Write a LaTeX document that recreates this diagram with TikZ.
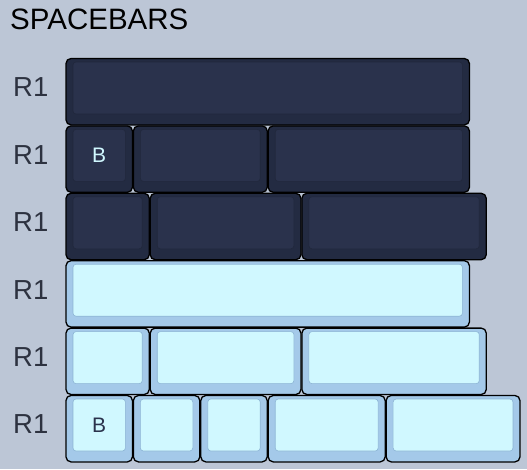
\documentclass[tikz,border=0pt]{standalone}
\usepackage{fontspec}
\setmainfont{Liberation Sans}
\usepackage{tikz}
\usetikzlibrary{positioning}

\definecolor{bgcol}{RGB}{188,198,214}
\definecolor{darkout}{RGB}{35,43,66}
\definecolor{darkin}{RGB}{42,50,76}
\definecolor{darkrim}{RGB}{33,40,60}
\definecolor{lightout}{RGB}{164,201,233}
\definecolor{lightin}{RGB}{208,248,255}
\definecolor{lightrim}{RGB}{140,180,212}
\definecolor{rowtxt}{RGB}{45,50,64}

\begin{document}
\begin{tikzpicture}[x=1pt,y=-1pt,
    keybase/.style={draw=black,line width=1.3pt,rounded corners=5pt,outer sep=0pt,inner sep=0pt,minimum height=66.4pt},
    keytop/.style={line width=0.6pt,rounded corners=3pt,outer sep=0pt,inner sep=0pt,minimum height=52pt,font=\fontsize{21}{21}\selectfont},
    dkey/.style={keybase,fill=darkout,minimum width=#1*67.4pt-1pt},
    lkey/.style={keybase,fill=lightout,minimum width=#1*67.4pt-1pt},
    dtop/.style={keytop,fill=darkin,draw=darkrim,text=lightin,minimum width=#1*67.4pt-15pt},
    ltop/.style={keytop,fill=lightin,draw=lightrim,text=darkin,minimum width=#1*67.4pt-15pt},
    rowlbl/.style={anchor=base west,inner sep=0pt,text=rowtxt,font=\fontsize{27.5}{27.5}\selectfont}]
	\fill[bgcol] (0,0) rectangle (527,469);
	\useasboundingbox (0,0) rectangle (527,469);

	\node[anchor=base west,inner sep=0pt,font=\fontsize{29.5}{29.5}\selectfont] (title) at (10,29.3) {SPACEBARS};

	% row labels
	\node[rowlbl] (lab1) at (13,96.8) {R1};
	\node[rowlbl] (lab2) at (13,164.2) {R1};
	\node[rowlbl] (lab3) at (13,231.6) {R1};
	\node[rowlbl] (lab4) at (13,299.0) {R1};
	\node[rowlbl] (lab5) at (13,366.4) {R1};
	\node[rowlbl] (lab6) at (13,433.8) {R1};

	% dark rows
	\node[dkey=6,anchor=north west] (r1a) at (66,58.5) {};
	\node[dtop=6] (r1at) [below=3.5pt of r1a.north] {};

	\node[dkey=1,anchor=north west] (r2a) at (66,125.9) {};
	\node[dkey=2] (r2b) [right=1pt of r2a] {};
	\node[dkey=3] (r2c) [right=1pt of r2b] {};
	\node[dtop=1] (r2at) [below=3.5pt of r2a.north] {B};
	\node[dtop=2] (r2bt) [below=3.5pt of r2b.north] {};
	\node[dtop=3] (r2ct) [below=3.5pt of r2c.north] {};

	\node[dkey=1.25,anchor=north west] (r3a) at (66,193.3) {};
	\node[dkey=2.25] (r3b) [right=1pt of r3a] {};
	\node[dkey=2.75] (r3c) [right=1pt of r3b] {};
	\node[dtop=1.25] (r3at) [below=3.5pt of r3a.north] {};
	\node[dtop=2.25] (r3bt) [below=3.5pt of r3b.north] {};
	\node[dtop=2.75] (r3ct) [below=3.5pt of r3c.north] {};

	% light rows
	\node[lkey=6,anchor=north west] (r4a) at (66,260.7) {};
	\node[ltop=6] (r4at) [below=3.5pt of r4a.north] {};

	\node[lkey=1.25,anchor=north west] (r5a) at (66,328.1) {};
	\node[lkey=2.25] (r5b) [right=1pt of r5a] {};
	\node[lkey=2.75] (r5c) [right=1pt of r5b] {};
	\node[ltop=1.25] (r5at) [below=3.5pt of r5a.north] {};
	\node[ltop=2.25] (r5bt) [below=3.5pt of r5b.north] {};
	\node[ltop=2.75] (r5ct) [below=3.5pt of r5c.north] {};

	\node[lkey=1,anchor=north west] (r6a) at (66,395.5) {};
	\node[lkey=1] (r6b) [right=1pt of r6a] {};
	\node[lkey=1] (r6c) [right=1pt of r6b] {};
	\node[lkey=1.75] (r6d) [right=1pt of r6c] {};
	\node[lkey=2] (r6e) [right=1pt of r6d] {};
	\node[ltop=1] (r6at) [below=3.5pt of r6a.north] {B};
	\node[ltop=1] (r6bt) [below=3.5pt of r6b.north] {};
	\node[ltop=1] (r6ct) [below=3.5pt of r6c.north] {};
	\node[ltop=1.75] (r6dt) [below=3.5pt of r6d.north] {};
	\node[ltop=2] (r6et) [below=3.5pt of r6e.north] {};
\end{tikzpicture}
\end{document}
